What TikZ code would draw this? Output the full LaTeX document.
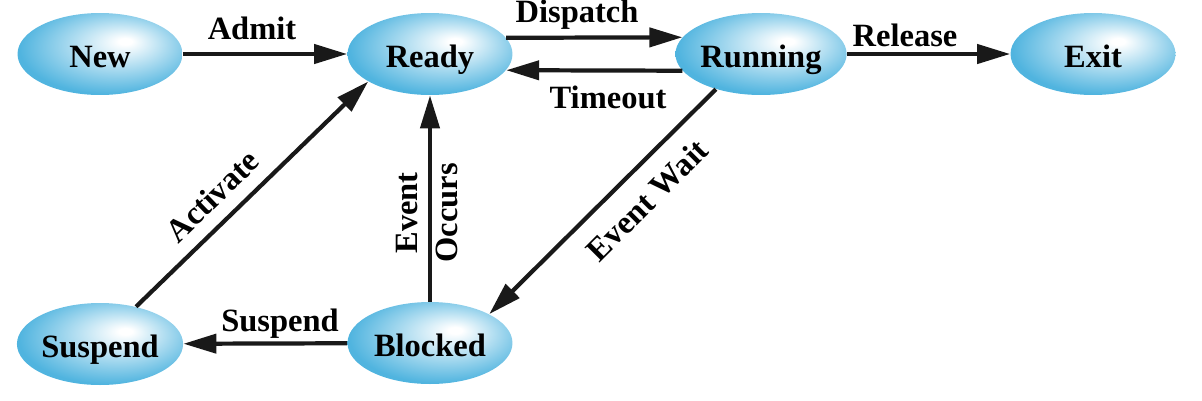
\documentclass[tikz,border=0pt]{standalone}
\usepackage{fontspec}
\setmainfont{Liberation Serif}
\usetikzlibrary{shapes.geometric,arrows.meta}
\definecolor{bleuetat}{RGB}{80,180,223}
\pgfdeclareradialshading{boule}{\pgfpoint{8bp}{8bp}}{color(0bp)=(white); color(2bp)=(white); color(28bp)=(bleuetat); color(50bp)=(bleuetat)}
\begin{document}
\begin{tikzpicture}[x=0.02cm,y=-0.02cm]
	\tikzstyle{lien}=[-{Triangle[length=0.66cm,width=0.38cm]},line width=2.4pt,black!90]
	\tikzset{etat/.style={ellipse,shade,shading=boule,minimum width=3.3cm,minimum height=1.64cm,inner sep=0pt,text height=15pt,text depth=0pt,font=\fontsize{18.5}{20}\selectfont\bfseries},texte/.style={font=\fontsize{18.5}{20}\selectfont\bfseries,inner sep=0pt}}
	\useasboundingbox (0,0) rectangle (1202,400);
	\node[etat] (e1) at (100,54) {New};
	\node[etat] (e2) at (430,54) {Ready};
	\node[etat] (e3) at (761,54) {Running};
	\node[etat] (e4) at (1093,54) {Exit};
	\node[etat] (e5) at (100,344) {Suspend};
	\node[etat] (e6) at (430,343) {Blocked};
	\draw[lien] (e1) -- (e2);
	\draw[lien] (e2.12) -- (e3.168);
	\draw[lien] (e3.192) -- (e2.348);
	\draw[lien] (e3) -- (e4);
	\draw[lien] (e3.218) -- (e6.26);
	\draw[lien] (e6) -- (e2);
	\draw[lien] (e6) -- (e5);
	\draw[lien] (e5.46) -- (e2.204);
	\node[texte] (t1) at (252,28) {Admit};
	\node[texte] (t2) at (577,15) {Dispatch};
	\node[texte] (t3) at (608,97) {Timeout};
	\node[texte] (t4) at (905,35) {Release};
	\node[texte,rotate=45] (t5) at (647,200) {Event Wait};
	\node[texte,rotate=90] (t6) at (407,213) {Event};
	\node[texte,rotate=90] (t7) at (447,213) {Occurs};
	\node[texte] (t8) at (280,324) {Suspend};
	\node[texte,rotate=44] (t9) at (212,196) {Activate};
\end{tikzpicture}
\end{document}
